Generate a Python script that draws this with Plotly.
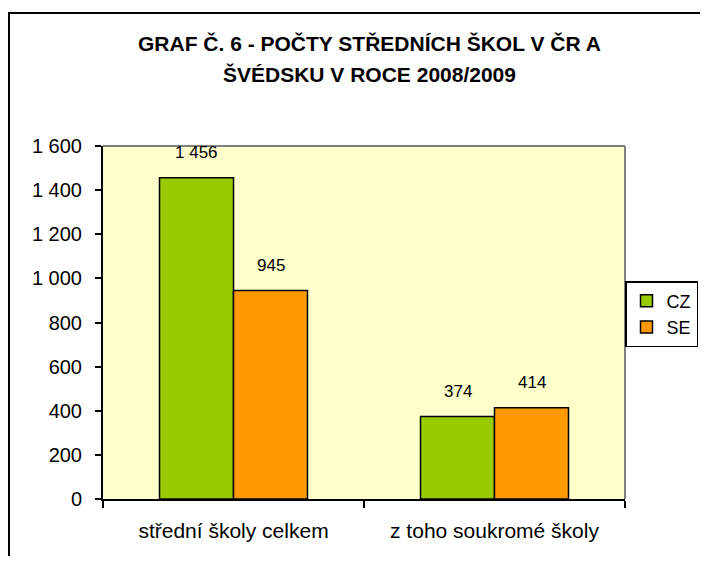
import plotly.graph_objects as go

categories = ["střední školy celkem", "z toho soukromé školy"]
series = ["CZ", "SE"]
cz_values = [1456, 374]
se_values = [945, 414]
y_ticks = [0, 200, 400, 600, 800, 1000, 1200, 1400, 1600]
title_lines = ["GRAF Č. 6 - POČTY STŘEDNÍCH ŠKOL V ČR A", "ŠVÉDSKU V ROCE 2008/2009"]

colors = {"CZ": "#99CC00", "SE": "#FF9900"}
font = "Liberation Sans, Arial, sans-serif"

# page body has an 8px margin: figure sized to fit the window without scrolling
W, H = 692, 548
L, T = 95, 138
R, B = W - 617, H - 491
pw, ph = W - L - R, H - T - B


def px_x(x):
    return (x - L) / pw


def px_y(y):
    return (H - B - y) / ph


fig = go.Figure()
for name, vals in zip(series, [cz_values, se_values]):
    fig.add_trace(go.Bar(
        x=categories, y=vals, name=name,
        marker=dict(color=colors[name], line=dict(color="black", width=1.5)),
    ))

# value labels above bars
bar_half = 37
for name, vals, shift in zip(series, [cz_values, se_values], [-bar_half, bar_half]):
    for cat, v in zip(categories, vals):
        fig.add_annotation(
            x=cat, y=v, text=f"{v:,}".replace(",", " "),
            xshift=shift, yshift=25, yanchor="middle", showarrow=False,
            font=dict(size=17, color="black", family=font),
        )

# title lines
for i, line in enumerate(title_lines):
    fig.add_annotation(
        xref="paper", yref="paper", x=px_x(361), y=px_y(35 + 32 * i),
        text=f"<b>{line}</b>", showarrow=False, xanchor="center", yanchor="middle",
        font=dict(size=21, color="black", family=font),
    )

# outer chart border (left/top visible)
fig.add_shape(type="rect", xref="paper", yref="paper",
              x0=px_x(1), x1=px_x(W + 20), y0=px_y(H + 20), y1=px_y(5),
              line=dict(color="black", width=2), layer="below")
# gray plot-area frame on top and right
fig.add_shape(type="line", xref="paper", yref="paper", x0=0, x1=1, y0=1, y1=1,
              line=dict(color="#808080", width=2))
fig.add_shape(type="line", xref="paper", yref="paper", x0=1, x1=1, y0=0, y1=1,
              line=dict(color="#808080", width=2))

fig.update_layout(
    width=W, height=H,
    margin=dict(l=L, r=R, t=T, b=B, autoexpand=False),
    paper_bgcolor="white", plot_bgcolor="#FFFFCC",
    separators=", ",
    barmode="group", bargap=0.433, bargroupgap=0,
    font=dict(family=font, color="black"),
    showlegend=True,
    legend=dict(
        x=px_x(690), xanchor="right", y=px_y(273), yanchor="top",
        bordercolor="black", borderwidth=1.5, bgcolor="white",
        font=dict(size=18), itemwidth=30,
    ),
    xaxis=dict(
        showline=True, linecolor="black", linewidth=2,
        ticks="outside", tickson="boundaries", ticklen=7, tickcolor="black", tickwidth=1.5,
        tickfont=dict(size=21), showgrid=False, ticklabelstandoff=12,
    ),
    yaxis=dict(
        range=[0, 1600], tickvals=y_ticks, tickformat=",",
        showline=True, linecolor="black", linewidth=2,
        ticks="outside", ticklen=6, tickcolor="black", tickwidth=1.5,
        tickfont=dict(size=20), showgrid=False, zeroline=False, ticklabelstandoff=9,
    ),
)

fig.write_html("out.html")
